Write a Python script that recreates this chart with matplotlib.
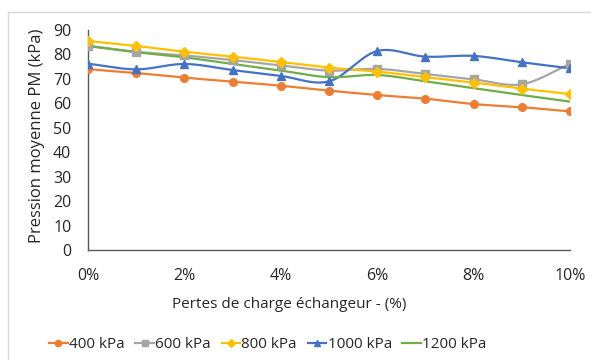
import matplotlib

matplotlib.use("Agg")
import matplotlib.pyplot as plt
import numpy as np
from matplotlib.lines import Line2D

# Données
pertes = [0, 1, 2, 3, 4, 5, 6, 7, 8, 9, 10]  # %
pm_400 = [74.0, 72.4, 70.5, 68.9, 67.2, 65.2, 63.4, 61.9, 59.7, 58.4, 56.7]
pm_600 = [83.6, 81.1, 79.6, 77.7, 75.5, 73.4, 74.1, 72.0, 69.8, 67.8, 76.1]
pm_800 = [85.5, 83.5, 81.1, 79.1, 76.9, 74.6, 73.0, 70.7, 68.5, 66.0, 63.8]
pm_1000 = [76.2, 73.9, 76.1, 73.6, 71.2, 69.0, 81.4, 79.1, 79.4, 76.8, 74.3]
pm_1200 = [83.4, 80.9, 78.8, 76.1, 73.4, 70.7, 71.6, 69.0, 66.2, 63.4, 60.7]

labels = ["400 kPa", "600 kPa", "800 kPa", "1000 kPa", "1200 kPa"]
colors = ["#ED7D31", "#A5A5A5", "#FFC000", "#4472C4", "#70AD47"]
markers = ["o", "s", "D", "^", None]
msizes = [5.5, 5.5, 5.0, 6.0, 0]

plt.rcParams["font.family"] = ["Open Sans", "DejaVu Sans"]


def smooth(x, y, n=20):
    """Courbe lissée type Excel (Catmull-Rom) passant par les points."""
    x = np.asarray(x, float)
    y = np.asarray(y, float)
    px = np.concatenate([[2 * x[0] - x[1]], x, [2 * x[-1] - x[-2]]])
    py = np.concatenate([[2 * y[0] - y[1]], y, [2 * y[-1] - y[-2]]])
    xs, ys = [], []
    t = np.linspace(0, 1, n, endpoint=False)
    for i in range(1, len(px) - 2):
        for p, out in ((px, xs), (py, ys)):
            p0, p1, p2, p3 = p[i - 1], p[i], p[i + 1], p[i + 2]
            out.extend(0.5 * (2 * p1 + (-p0 + p2) * t
                              + (2 * p0 - 5 * p1 + 4 * p2 - p3) * t ** 2
                              + (-p0 + 3 * p1 - 3 * p2 + p3) * t ** 3))
    xs.append(x[-1])
    ys.append(y[-1])
    return np.array(xs), np.array(ys)


fig = plt.figure(figsize=(5.91, 3.6), dpi=100)
ax = fig.add_axes([88 / 591, 1 - 250 / 360, 482 / 591, 220 / 360])

series = [pm_400, pm_600, pm_800, pm_1000, pm_1200]
handles = []
for vals, lab, col, mk, ms in zip(series, labels, colors, markers, msizes):
    sx, sy = smooth(pertes, vals)
    ax.plot(sx, sy, color=col, lw=1.6, zorder=2)
    if mk:
        ax.plot(pertes, vals, ls="none", marker=mk, ms=ms, color=col, zorder=3)
    handles.append(Line2D([], [], color=col, lw=1.6, marker=mk, ms=ms - 1 if mk else 0))

ax.set_xlim(0, 10)
ax.set_ylim(0, 90)
ax.set_xticks([0, 2, 4, 6, 8, 10])
ax.set_xticklabels(["0%", "2%", "4%", "6%", "8%", "10%"])
ax.set_yticks(range(0, 91, 10))
ax.tick_params(length=0, labelsize=11.5, colors="#262626")
ax.tick_params(axis="y", pad=12)
ax.tick_params(axis="x", pad=13)
for side in ("top", "right"):
    ax.spines[side].set_visible(False)
for side in ("left", "bottom"):
    ax.spines[side].set_color("#595959")
    ax.spines[side].set_linewidth(1.0)
ax.margins(x=0)

ax.set_xlabel("Pertes de charge échangeur - (%)", fontsize=11, color="#262626")
ax.xaxis.set_label_coords((289 - 88) / 482, -(297 - 250) / 220)
ax.set_ylabel("Pression moyenne PM (kPa)", fontsize=12, color="#262626")
ax.yaxis.set_label_coords(-(88 - 45) / 482, (250 - 136) / 220)

fig.legend(handles, labels, loc="center", bbox_to_anchor=(268 / 591, 1 - 345 / 360), ncol=5,
           frameon=False, fontsize=11, handlelength=1.2, handletextpad=0.1,
           columnspacing=0.7, labelcolor="#262626")

# cadre du graphique (partiellement visible)
fig.add_artist(Line2D([8 / 591, 1], [1 - 12 / 360] * 2, color="#d9d9d9", lw=1))
fig.add_artist(Line2D([8 / 591] * 2, [0, 1 - 12 / 360], color="#d9d9d9", lw=1))

fig.savefig("out.png", dpi=100)
